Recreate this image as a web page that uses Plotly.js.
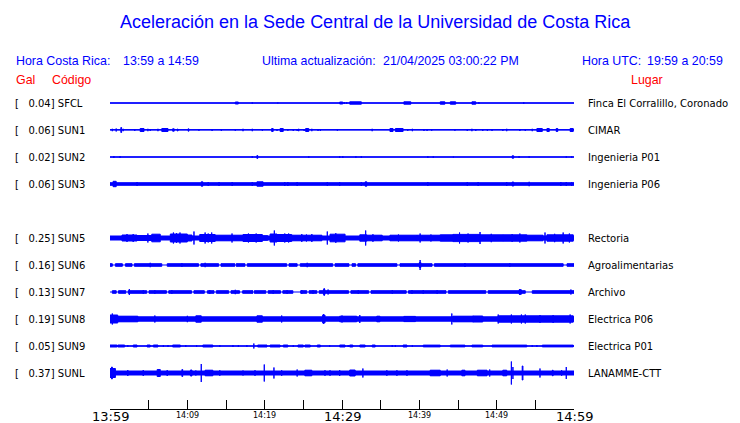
<!DOCTYPE html>
<html>
<head>
<meta charset="utf-8">
<script src="https://cdn.plot.ly/plotly-3.0.1.min.js"></script>
<style>html,body{margin:0;padding:0;background:#fff;}#chart{width:740px;height:423px;}</style>
</head>
<body>
<div id="chart"></div>
<script>
// ---------------- DATA ----------------
const codes  = ['SFCL','SUN1','SUN2','SUN3','SUN5','SUN6','SUN7','SUN8','SUN9','SUNL'];
const galMax = [0.04, 0.06, 0.02, 0.06, 0.25, 0.16, 0.13, 0.19, 0.05, 0.37];
const places = ['Finca El Corralillo, Coronado','CIMAR','Ingenieria P01','Ingenieria P06','Rectoria',
                'Agroalimentarias','Archivo','Electrica P06','Electrica P01','LANAMME-CTT'];

// time axis: minutes after 13:59
const tickMinutes = [0,5,10,15,20,25,30,35,40,45,50,55,60];
const labelMinutes = [0,10,20,30,40,50,60];
const labelTexts   = ['13:59','14:09','14:19','14:29','14:39','14:49','14:59'];
const labelMajor   = [true,false,false,true,false,false,true];

// waveform envelopes: [start minute, end minute, half amplitude]
const sfcl = [[0,60,0],[16.2,16.6,1],[18.4,18.4,0.8],[21.7,21.7,0.5],[29.7,30.1,1],[30.3,30.3,1],[30.6,30.6,1],
  [31.0,32.5,1.2],[38.0,38.9,1.2],[42.7,43.3,1.2],[44.0,44.7,1.2],[46.8,47.3,1.2],[47.7,47.7,1],[53.5,53.5,1]];
const sun1 = [[0,60,0.3],[0.3,0.3,1.2],[0.8,0.8,1.5],[1.4,1.5,2.5],[1.7,1.7,1.2],[3.2,3.2,1],[3.9,4.4,1.5],[4.9,4.9,1.2],
  [5.2,5.2,1],[6.2,6.2,1.2],[6.7,7.5,1.5],[8.1,8.3,1.2],[8.7,8.8,1],[10.1,10.2,1.2],[11.5,11.5,0.8],[13.2,13.2,1],
  [14.4,14.4,1],[16.2,16.2,0.8],[17.2,17.2,1.2],[18.4,18.4,1.2],[19.7,19.7,0.8],[20.9,21.1,1.5],[21.6,21.6,1],
  [22.0,22.4,1.5],[23.0,23.0,0.8],[23.7,23.7,1],[24.2,24.2,1],[24.4,24.4,1.2],[25.1,25.1,1],[25.3,25.7,1.5],
  [26.1,26.1,1.2],[26.9,26.9,1],[27.2,27.2,1],[29.4,29.4,0.8],[33.9,33.9,1.2],[36.2,36.6,1.5],[36.9,37.9,1.5],
  [38.5,38.5,1],[39.1,39.1,1.2],[40.6,40.6,1],[41.0,41.0,1],[41.6,41.6,0.8],[44.6,44.6,0.8],[46.2,46.2,1],
  [46.8,46.8,1.2],[47.3,47.3,1],[48.2,48.2,1],[48.8,48.8,1],[49.4,49.4,1],[50.8,50.8,1],[51.3,51.3,1.2],
  [53.0,53.0,1],[53.7,53.7,1],[54.6,54.6,1.2],[55.2,55.9,1.5],[56.5,56.8,1.5],[57.7,57.9,1.5],[59.5,59.9,1.5]];
const sun2 = [[0,60,0],[0.5,0.5,1],[1.3,1.3,1],[18.4,18.4,1],[19.0,19.1,1.5],[25.7,25.7,0.8],[29.7,29.7,1],
  [30.1,30.1,1],[31.8,31.8,0.8],[32.5,32.5,1],[41.1,41.1,1],[41.8,41.8,0.8],[44.4,44.4,0.5],[52.0,52.2,1.2],
  [52.9,52.9,1],[54.2,54.2,0.8],[59.0,59.0,0.8],[59.7,59.7,0.8]];
const sun3 = [[0,60,1.3],[0.4,0.8,2.7],[3.5,3.5,2],[11.8,12.0,2.2],[12.7,12.7,2],[14.1,14.1,2],[15.8,15.8,2],
  [18.4,18.4,2],[19.0,19.8,2.2],[22.6,22.6,2],[23.0,23.0,2],[24.2,24.2,2],[28.1,28.1,2],[29.7,29.7,2],
  [32.5,32.5,2],[33.0,33.2,2.2],[41.1,41.1,2],[46.2,46.2,2],[47.6,47.6,2],[51.3,51.3,2],[52.0,52.2,2],
  [54.2,54.2,2.2],[58.3,58.3,2],[59.0,59.0,2],[59.7,59.7,2]];
const sun5 = [[0,60,2.0],[1.55,3.5,3],[2.2,2.2,4],[3.0,3.0,4],[3.5,5.4,2.5],[5.4,6.5,3.8],[4.9,4.9,4.5],
  [7.8,10.0,4],[8.2,8.2,5.5],[9.05,9.05,5.5],[8.6,8.6,4.8],[10.0,10.6,3],[10.86,10.86,6.5],
  [11.6,13.6,3.5],[12.3,12.3,5.5],[13.15,13.15,5.5],[12.7,12.7,4.5],[13.6,15.8,2.8],[15.78,15.78,4.5],
  [15.8,17.2,2.8],[17.2,19.7,3.5],[17.9,17.9,4.5],[18.9,18.9,4.5],[19.7,20.4,2.3],
  [20.7,21.6,4],[21.25,21.25,7.5],[21.6,23.5,3.5],[22.6,22.6,4.5],[23.1,23.1,4.5],
  [23.5,27.4,2.8],[24.8,24.8,4],[26.1,26.1,4],[25.4,25.4,3.5],[28.1,28.1,6.5],
  [28.45,30.4,3.8],[29.2,29.2,4.8],[32.3,33.2,3.2],[33.06,33.06,7.5],[33.2,35.2,2.8],[34.0,34.0,3.8],
  [36.2,39.7,2.8],[37.3,37.3,3.5],[39.7,42.7,2.8],[40.1,40.1,4.5],[41.5,41.5,3.5],
  [42.7,44.35,3.2],[44.35,47.85,3.6],[45.2,45.2,5.5],[46.3,46.3,4.5],[47.85,47.85,6],
  [47.85,50.8,3.2],[49.3,49.3,4.2],[50.8,53.9,3.2],[53.0,53.0,4.5],[52.0,52.0,4],
  [53.9,56.0,2.8],[56.25,56.25,5.5],[56.5,59.9,3.2],[57.5,57.5,4.2],[58.6,58.6,5.5],[59.4,59.4,4.5]];
const sun6 = [[0,0.3,1.3],[0.7,1.6,1.3],[2.0,2.85,1.3],[3.15,6.7,1.3],[7.4,11.45,1.3],[11.75,14.05,1.3],
  [14.35,16.15,1.3],[16.45,17.45,1.3],[17.75,22.85,1.3],[23.15,24.2,1.3],[24.6,28.8,1.3],[29.1,30.9,1.3],
  [31.3,31.75,1.3],[32.05,37.1,1.3],[37.5,41.65,1.3],[41.95,58.6,1.3],[59.1,60,1.3],
  [5.2,5.2,2.2],[9.3,9.3,1.8],[12.3,12.3,2.2],[16.4,16.4,1.8],[25.5,25.5,2.2],[40.0,40.2,2.5],[40.1,40.1,5],
  [45.9,45.9,2],[51.7,51.7,1.8]];
const sun7 = [[0.3,0.8,1.3],[1.1,2.05,1.3],[2.35,4.75,1.3],[5.05,7.3,1.3],[7.6,10.55,1.3],[10.85,12.2,1.3],
  [12.6,13.45,1.3],[13.75,15.35,1.3],[15.65,16.75,1.3],[17.15,18.35,1.3],[18.65,20.15,1.3],[20.45,22.05,1.3],
  [22.35,23.65,1.3],[24.65,25.45,1.3],[25.75,26.75,1.3],[27.05,30.85,1.3],[31.15,33.45,1.3],[33.75,38.3,1.3],
  [38.6,43.45,1.3],[43.75,48.6,1.3],[48.9,53.7,1.3],[54.6,60,1.3],
  [2.5,2.5,3],[4.3,4.3,1.8],[5.8,5.8,1.8],[8.0,8.0,1.8],[12.9,12.9,2],[16.2,16.2,2.2],[18.4,18.4,1.8],
  [21.1,21.1,1.8],[22.9,22.9,1.8],[24.8,24.8,2],[26.25,26.25,1.8],[27.6,27.8,2.5],[27.7,27.7,3.8],[28.2,28.2,2.5],
  [32.1,32.1,1.8],[36.5,36.5,1.8],[39.05,39.05,1.8],[40.5,40.5,1.8],[42.3,42.3,1.8],[52.9,53.2,2.2],[53.0,53.0,3],
  [59.6,59.6,2.5]];
const sun8 = [[0,60,2.2],[0,1.0,4],[0.3,0.3,5.5],[1.0,3.6,2.8],[5.8,5.8,3.5],[11.1,11.8,3.2],[10.0,10.0,3.2],
  [19.0,19.7,3.2],[22.2,22.2,3.5],[27.5,27.8,4],[27.6,27.6,5],[29.7,31.9,2.8],[30.0,30.0,3.5],[32.3,32.3,4],
  [34.5,34.9,2.8],[38.0,39.5,2.6],[44.2,44.2,5.5],[44.35,47.0,2.8],[46.9,48.2,3],[50.2,59.9,3.2],[50.2,50.2,4.5],
  [51.9,51.9,4.5],[53.2,53.2,4.5],[53.7,53.7,4.5],[55.6,55.6,4],[57.3,57.3,4],[59.5,59.5,4.5]];
const sun9 = [[0,60,0],[0,0.9,1],[1.0,1.9,1],[2.3,2.3,1],[3.0,3.5,1],[4.8,5.2,1],[5.6,6.2,1],[6.9,6.9,1],
  [7.5,7.5,1],[8.1,9.1,1],[9.8,9.8,1],[11.2,11.2,1],[12.0,13.3,1],[14.2,14.2,1],[15.9,15.9,1],[16.6,16.6,1],
  [17.7,17.7,1],[18.6,18.6,2.5],[19.1,20.3,1],[20.7,22.0,1],[22.4,23.0,1],[23.7,23.7,1],[24.3,25.0,1],
  [25.2,25.9,1],[26.8,27.2,1],[28.4,28.4,1],[29.7,30.4,1],[30.8,30.8,1],[31.0,31.4,1],[32.3,33.0,1],
  [33.9,34.3,1],[36.5,36.5,1],[36.9,36.9,1],[37.9,38.4,1],[39.1,39.1,1],[40.5,42.7,0.9],[44.0,45.9,0.9],
  [46.8,48.2,0.9],[49.4,53.9,0.9],[54.6,54.6,1],[55.2,55.2,1],[55.9,59.9,0.9]];
const sunl = [[0,60,2.0],[0,0.7,4.5],[0.2,0.3,6],[2.3,2.3,3],[4.3,4.3,3],[6.1,6.5,3.5],[7.4,7.4,3],[9.3,9.4,3.5],
  [10.4,10.6,3],[11.1,11.1,2.5],[11.8,11.8,9],[12.3,13.3,2.8],[14.2,14.2,2.8],[17.2,17.2,2.5],[18.75,18.75,2.8],
  [19.95,19.95,8.5],[21.2,21.2,5.5],[22.2,22.2,2.8],[24.2,24.2,3.5],[25.2,26.1,2.8],[27.8,27.8,2.8],[28.45,28.45,2.8],
  [29.7,29.7,3],[31.0,31.7,3],[32.7,32.7,4.5],[35.8,35.8,2.8],[37.1,37.1,2.8],[38.4,38.4,2.8],[41.4,42.7,2.8],
  [43.6,43.6,3.5],[45.5,45.9,2.8],[47.5,48.75,2.8],[49.1,49.1,3.5],[50.8,51.3,2.8],[51.9,51.9,11.5],[52.1,52.1,6],
  [53.3,53.4,7],[55.6,55.6,4.5],[57.2,57.3,2.8],[58.4,58.4,2.8],[59.0,59.0,6]];
const waves = [sfcl, sun1, sun2, sun3, sun5, sun6, sun7, sun8, sun9, sunl];

// ---------------- LAYOUT ----------------
const BLUE = '#0000ff', RED = '#ff0000';
const slots = [0,1,2,3,5,6,7,8,9,10];   // row slot of each station (gap after SUN3)
const ROW = 27;
const L = 110, R = 574, T = 90, B = 409;
const X = px => (px - L) / (R - L);
const Y = py => (B - py) / (B - T);

const traces = [];
waves.forEach((segs, i) => {
  const c = -ROW * slots[i];
  traces.push({type:'scatter', mode:'lines', x:[0,60], y:[c,c], line:{color:BLUE,width:1},
               hoverinfo:'skip', showlegend:false});
  const x = [], y = [];
  segs.forEach(([t0,t1,a]) => {
    x.push(t0,t1,t1,t0,t0,null);
    y.push(c+a,c+a,c-a,c-a,c+a,null);
  });
  traces.push({type:'scatter', mode:'lines', x, y, fill:'toself', fillcolor:BLUE,
               line:{color:BLUE,width:1}, hoverinfo:'skip', showlegend:false});
});

const HF = 'Liberation Sans, Arial, sans-serif';
const DF = 'DejaVu Sans, sans-serif';
const ann = [];
function txt(px, py, text, size, color, family, anchor) {
  ann.push({xref:'paper', yref:'paper', x:X(px), y:Y(py), text, showarrow:false,
            xanchor:anchor||'left', yanchor:'middle', font:{family, size, color}});
}
txt(375, 22, 'Aceleración en la Sede Central de la Universidad de Costa Rica', 18, BLUE, HF, 'center');
txt(14, 61, 'Hora Costa Rica:', 12.4, BLUE, HF);
txt(121, 61, '13:59 a 14:59', 12.4, BLUE, HF);
txt(260, 61, 'Ultima actualización:', 12.4, BLUE, HF);
txt(381, 61, '21/04/2025 03:00:22 PM', 12.4, BLUE, HF);
txt(580, 61, 'Hora UTC:', 12.4, BLUE, HF);
txt(725, 61, '19:59 a 20:59', 12.4, BLUE, HF, 'right');
txt(14, 80, 'Gal', 12.4, RED, HF);
txt(50, 80, 'Código', 12.4, RED, HF);
txt(629, 80, 'Lugar', 12.4, RED, HF);

codes.forEach((code, i) => {
  const c = -ROW * slots[i];
  ann.push({xref:'paper', yref:'y', x:X(13), y:c, xanchor:'left', yanchor:'middle', showarrow:false,
            text:'[\u00a0\u00a0\u00a0' + galMax[i].toFixed(2) + '] ' + code, font:{family:DF, size:10, color:'#000'}});
  ann.push({xref:'paper', yref:'y', x:X(586), y:c, xanchor:'left', yanchor:'middle', showarrow:false,
            text:places[i], font:{family:DF, size:10, color:'#000'}});
});
labelMinutes.forEach((m, i) => {
  ann.push({xref:'x', yref:'paper', x:m, y:Y(labelMajor[i] ? 416.5 : 415.5), xanchor:'center', yanchor:'middle',
            showarrow:false, text:labelTexts[i],
            font:{family:DF, size:labelMajor[i] ? 13 : 8, color:'#000'}});
});

const layout = {
  width:740, height:423,
  margin:{l:L, r:740-R, t:T, b:423-B, pad:0},
  paper_bgcolor:'#fff', plot_bgcolor:'#fff',
  showlegend:false,
  xaxis:{range:[0,60], tickvals:tickMinutes, ticks:'inside', ticklen:9, tickwidth:1, tickcolor:'#000',
         showline:true, linecolor:'#000', linewidth:1, showticklabels:false, showgrid:false, zeroline:false,
         fixedrange:true},
  yaxis:{range:[-(B-T-(103-T)), 103-T], visible:false, showgrid:false, zeroline:false, fixedrange:true},
  annotations:ann
};
Plotly.newPlot('chart', traces, layout, {staticPlot:true, displayModeBar:false});
</script>
</body>
</html>
